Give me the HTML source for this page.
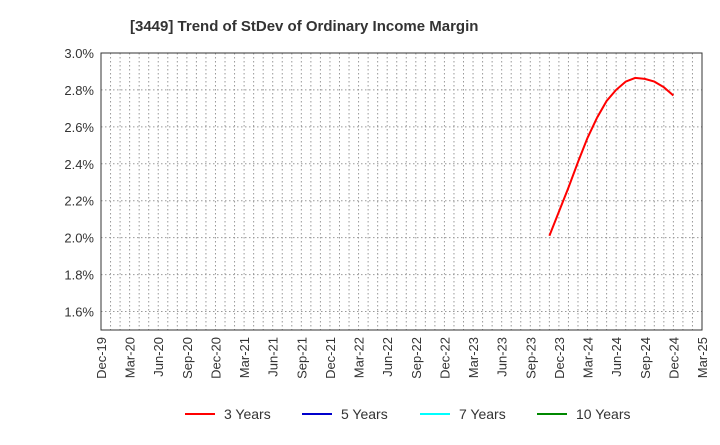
<!DOCTYPE html>
<html><head><meta charset="utf-8"><style>
body{margin:0;background:#fff;font-family:"Liberation Sans",Arial,sans-serif;}
svg text{font-family:"Liberation Sans",Arial,sans-serif;}
</style></head><body>
<svg width="720" height="440" viewBox="0 0 720 440">
<text x="130" y="31" font-size="15" font-weight="bold" fill="#333">[3449]  Trend of StDev of Ordinary Income Margin</text>
<g id="grid"></g>
<g id="yticks"></g>
<g id="xticks"></g>
<rect x="101" y="53" width="601" height="277" fill="none" stroke="#333" stroke-width="1"/>
<path id="line3" fill="none" stroke="#f00" stroke-width="2"/>
<g>
<g><line x1="185" y1="414" x2="215" y2="414" stroke="#f00" stroke-width="2"/><text x="224" y="419" font-size="14" fill="#333">3 Years</text></g>
<g><line x1="302" y1="414" x2="332" y2="414" stroke="#00c" stroke-width="2"/><text x="341" y="419" font-size="14" fill="#333">5 Years</text></g>
<g><line x1="420" y1="414" x2="450" y2="414" stroke="#0ff" stroke-width="2"/><text x="459" y="419" font-size="14" fill="#333">7 Years</text></g>
<g><line x1="537" y1="414" x2="567" y2="414" stroke="#080" stroke-width="2"/><text x="576" y="419" font-size="14" fill="#333">10 Years</text></g>
</g>
</svg>
<script>
const xLabels=["Dec-19","Mar-20","Jun-20","Sep-20","Dec-20","Mar-21","Jun-21","Sep-21","Dec-21","Mar-22","Jun-22","Sep-22","Dec-22","Mar-23","Jun-23","Sep-23","Dec-23","Mar-24","Jun-24","Sep-24","Dec-24","Mar-25"];
const yTicks=[1.6,1.8,2.0,2.2,2.4,2.6,2.8,3.0];
const seriesStartMonth=47; // months after Dec-19 (Nov-23)
const series3=[2.01,2.14,2.27,2.41,2.54,2.65,2.74,2.80,2.845,2.865,2.86,2.845,2.815,2.77];
const NS="http://www.w3.org/2000/svg";
const L=101,R=702,T=53,B=330,yMin=1.5,yMax=3.0;
const months=(xLabels.length-1)*3;
function xm(m){return L+(R-L)*m/months;}
function y(v){return B-(B-T)*(v-yMin)/(yMax-yMin);}
function mk(tag,attrs,parent){const e=document.createElementNS(NS,tag);for(const k in attrs)e.setAttribute(k,attrs[k]);parent.appendChild(e);return e;}
const grid=document.getElementById('grid');
for(let m=1;m<months;m++){const l=mk('line',{x1:xm(m),x2:xm(m),y1:T,y2:B,stroke:'#999','stroke-dasharray':'1.5,2.5','stroke-width':1},grid);

}
const yt=document.getElementById('yticks');
yTicks.forEach(v=>{const l=mk('line',{x1:L,x2:R,y1:y(v),y2:y(v),stroke:'#999','stroke-dasharray':'1.5,2.5','stroke-width':1},grid);


const t=mk('text',{x:L-7,y:y(v)+5,'text-anchor':'end','font-size':13,fill:'#333'},yt);
t.textContent=v.toFixed(1)+'%';

});
const xt=document.getElementById('xticks');
xLabels.forEach((s,i)=>{const x=xm(i*3)+5;const t=mk('text',{x:x,y:337,transform:`rotate(-90 ${x} 337)`,'text-anchor':'end','font-size':13,fill:'#333'},xt);
t.textContent=s;

});
document.getElementById('line3').setAttribute('d',series3.map((v,i)=>(i?'L':'M')+xm(seriesStartMonth+i).toFixed(1)+','+y(v).toFixed(1)).join(' '));
</script>
</body></html>
